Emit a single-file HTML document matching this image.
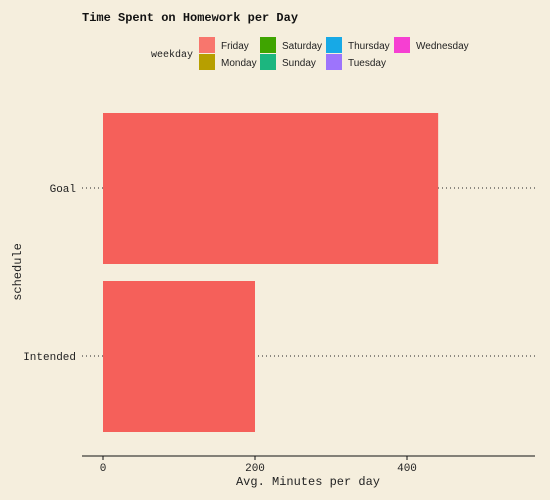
<!DOCTYPE html>
<html><head><meta charset="utf-8"><style>
body{margin:0;background:#f5eedd;}
svg{display:block;font-family:"Liberation Mono",monospace;}
</style></head><body>
<svg width="550" height="500">
<rect width="550" height="500" fill="#f5eedd"/>
<text x="82" y="21" font-size="12" font-weight="bold" fill="#111">Time Spent on Homework per Day</text>
<g font-family="Liberation Sans,sans-serif" font-size="10" fill="#222">
<text x="151" y="57" font-family="Liberation Mono,monospace" font-size="10">weekday</text>
</g>
<g id="legend"></g>
<g id="plot"></g>
<text x="308" y="485" font-size="12" text-anchor="middle" fill="#222">Avg. Minutes per day</text>
<text transform="translate(21,272) rotate(-90)" font-size="12" text-anchor="middle" fill="#222">schedule</text>
</svg>
<script>
const categories=["Goal","Intended"];
const fridayValues=[441,200];
const xTicks=[0,200,400];
const legendNames=["Friday","Monday","Saturday","Sunday","Thursday","Tuesday","Wednesday"];
const legendColors=["#f8766d","#b79f00","#3fa400","#1cb67f","#17a9e6","#9d74fc","#f63fd2"];
const NS="http://www.w3.org/2000/svg";
function mk(t,a,p){const e=document.createElementNS(NS,t);for(const k in a)e.setAttribute(k,a[k]);p.appendChild(e);return e;}
const x=v=>103+v*0.76;
const yc=i=>188+i*168;
const plot=document.getElementById('plot');
categories.forEach((c,i)=>{
 const g=mk('line',{x1:82,x2:535,y1:yc(i),y2:yc(i),stroke:'#222','stroke-dasharray':'1,3'},plot);
 
 
 const b=mk('rect',{x:x(0),y:yc(i)-75,width:x(fridayValues[i])-x(0),height:151,fill:'#f5605a'},plot);
 
 
 const t=mk('text',{x:76,y:yc(i)+4,'text-anchor':'end','font-size':'11',fill:'#222'},plot);
 t.textContent=c;
 
 
});
const ax=mk('line',{x1:82,x2:535,y1:456,y2:456,stroke:'#111','stroke-width':1},plot);


xTicks.forEach(v=>{
 const l=mk('line',{x1:x(v),x2:x(v),y1:456,y2:460,stroke:'#111'},plot);
 
 
 const t=mk('text',{x:x(v),y:471,'text-anchor':'middle','font-size':'11',fill:'#222'},plot);
 t.textContent=v;
 
 
});
const lg=document.getElementById('legend');
const colX=[199,260,326,394];
legendNames.forEach((n,i)=>{
 const col=Math.floor(i/2),row=i%2;
 const r=mk('rect',{x:colX[col],y:37+row*17,width:16,height:16,fill:legendColors[i]},lg);
 
 
 const t=mk('text',{x:colX[col]+22,y:49+row*17,'font-size':'10','font-family':'Liberation Sans,sans-serif',fill:'#222'},lg);
 t.textContent=n;
 
 
});
</script>
</body></html>
